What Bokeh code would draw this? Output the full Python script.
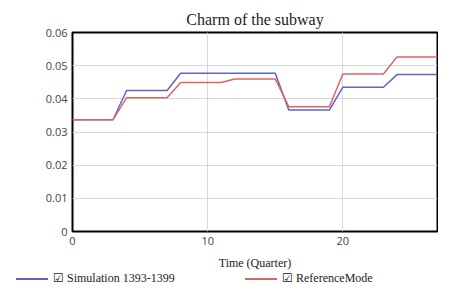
from bokeh.plotting import figure
from bokeh.layouts import column
from bokeh.models import Range1d, FixedTicker, Div
from bokeh.embed import file_html
from bokeh.resources import INLINE

quarters = [0, 1, 2, 3, 4, 5, 6, 7, 8, 9, 10, 11, 12, 13,
            14, 15, 16, 17, 18, 19, 20, 21, 22, 23, 24, 25, 26, 27]
simulation = [0.0337, 0.0337, 0.0337, 0.0337, 0.0425, 0.0425, 0.0425, 0.0425,
              0.0477, 0.0477, 0.0477, 0.0477, 0.0477, 0.0477, 0.0477, 0.0477,
              0.0366, 0.0366, 0.0366, 0.0366, 0.0435, 0.0435, 0.0435, 0.0435,
              0.0473, 0.0473, 0.0473, 0.0473]
reference = [0.0337, 0.0337, 0.0337, 0.0337, 0.0403, 0.0403, 0.0403, 0.0403,
             0.0449, 0.0449, 0.0449, 0.0449, 0.0460, 0.0460, 0.0460, 0.0460,
             0.0376, 0.0376, 0.0376, 0.0376, 0.0475, 0.0475, 0.0475, 0.0475,
             0.0526, 0.0526, 0.0526, 0.0526]
x_ticks = [0, 10, 20]
y_ticks = [0, 0.01, 0.02, 0.03, 0.04, 0.05, 0.06]
y_tick_labels = ["0", "0.01", "0.02", "0.03", "0.04", "0.05", "0.06"]
series_labels = ["\u2611 Simulation 1393-1399", "\u2611 ReferenceMode"]
series_colors = ["#6262cc", "#dc6464"]

p = figure(width=438, height=272, output_backend="svg", toolbar_location=None,
           x_range=Range1d(0, 27), y_range=Range1d(0, 0.06),
           min_border_left=72, min_border_right=1, min_border_top=32,
           min_border_bottom=0, title="Charm of the subway")

p.title.align = "center"
p.title.text_font = "Liberation Serif"
p.title.text_font_size = "16px"
p.title.text_font_style = "normal"
p.title.text_color = "#222222"

p.outline_line_color = "black"
p.outline_line_width = 2
p.background_fill_color = "white"
p.border_fill_color = "white"

p.xaxis.ticker = FixedTicker(ticks=x_ticks)
p.yaxis.ticker = FixedTicker(ticks=y_ticks)
p.yaxis.major_label_overrides = {t: l for t, l in zip(y_ticks, y_tick_labels)}
for ax in (p.xaxis, p.yaxis):
    ax.axis_line_color = None
    ax.major_tick_line_color = None
    ax.minor_tick_line_color = None
    ax.major_tick_out = 0
    ax.major_tick_in = 0
    ax.minor_tick_out = 0
    ax.minor_tick_in = 0
    ax.major_label_text_font = "Open Sans"
    ax.major_label_text_font_size = "11px"
    ax.major_label_text_color = "#444444"
    ax.major_label_standoff = 5
p.xaxis.axis_label = "Time (Quarter)"
p.xaxis.axis_label_text_font = "Liberation Serif"
p.xaxis.axis_label_text_font_size = "12px"
p.xaxis.axis_label_text_font_style = "normal"
p.xaxis.axis_label_text_color = "#222222"
p.xaxis.axis_label_standoff = 8

p.xgrid.grid_line_color = "#d9d9d9"
p.ygrid.grid_line_color = "#d9d9d9"
p.xgrid.ticker = FixedTicker(ticks=x_ticks)
p.ygrid.ticker = FixedTicker(ticks=y_ticks)

p.line(quarters, simulation, line_color=series_colors[0], line_width=1.5)
p.line(quarters, reference, line_color=series_colors[1], line_width=1.5)

# legend row below the chart
item_left = [16, 245]
items_html = ""
for lbl, col, left in zip(series_labels, series_colors, item_left):
    items_html += (
        f'<span style="position:absolute;left:{left}px;top:0px;line-height:12px;">'
        f'<span style="display:inline-block;width:32px;height:0px;'
        f'border-top:2px solid {col};vertical-align:middle;margin-right:5px;"></span>'
        f'{lbl}</span>'
    )
legend_html = (
    '<div style="position:relative;width:438px;height:12px;'
    "font-family:'Liberation Serif';font-size:12px;color:#222222;"
    'white-space:nowrap;">' + items_html + '</div>'
)
legend_div = Div(text=legend_html, width=438, height=12, margin=0)

layout = column(p, legend_div, spacing=0)
open("out.html", "w").write(file_html(layout, INLINE))
